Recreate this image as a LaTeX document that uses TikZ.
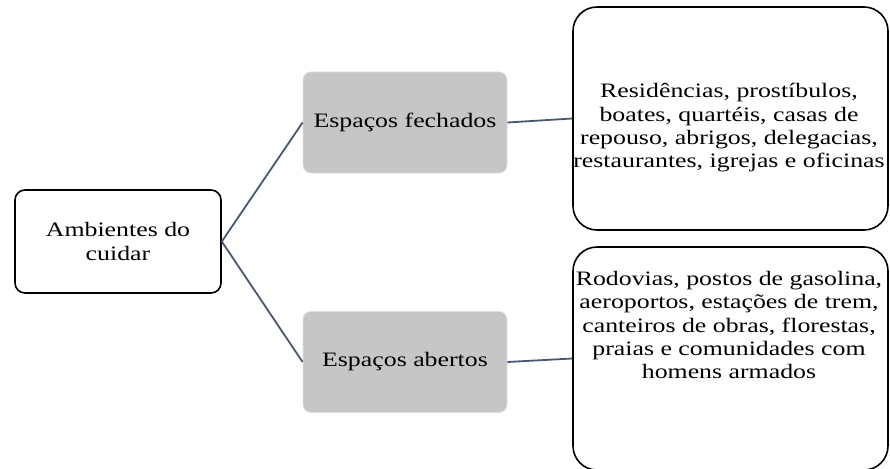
\documentclass[tikz,border=0pt]{standalone}
\usepackage{fontspec}
\setmainfont[FakeStretch=1.26]{Liberation Serif}
\definecolor{connc}{HTML}{4A5670}
\definecolor{grayfill}{HTML}{C6C6C6}
\begin{document}
\begin{tikzpicture}[x=1pt,y=-1pt,
  txt/.style={font=\fontsize{20.5}{23.3}\selectfont, align=center, text=black},
  rootbox/.style={draw=black, line width=1.6pt, rounded corners=10pt, minimum width=206pt, minimum height=103pt, txt},
  graybox/.style={fill=grayfill, draw=gray!25, line width=0.8pt, rounded corners=8pt, minimum width=204pt, minimum height=101pt, txt},
  bigbox/.style={draw=black, line width=1.6pt, rounded corners=24pt, minimum width=315pt, minimum height=223pt},
  conn/.style={draw=connc, line width=1.8pt}]
\useasboundingbox (0,0) rectangle (890,468);
\clip (0,0) rectangle (890,468);
\node[rootbox] (root) at (118,241.5) {Ambientes do\\cuidar};
\node[graybox] (fech) at (405,122.5) {Espaços fechados};
\node[graybox] (aber) at (405,362) {Espaços abertos};
\node[bigbox] (top) at (730.5,118.5) {};
\node[bigbox] (bot) at (730.5,358.5) {};
\node[txt] (toptxt) at (729,128) {Residências, prostíbulos,\\boates, quartéis, casas de\\repouso, abrigos, delegacias,\\restaurantes, igrejas e oficinas};
\node[txt] (bottxt) at (729,325) {Rodovias, postos de gasolina,\\aeroportos, estações de trem,\\canteiros de obras, florestas,\\praias e comunidades com\\homens armados};
\draw[conn] (root.east) -- (fech.west);
\draw[conn] (root.east) -- (aber.west);
\draw[conn] (fech.east) -- (top.west);
\draw[conn] (aber.east) -- (bot.west);
\end{tikzpicture}
\end{document}
